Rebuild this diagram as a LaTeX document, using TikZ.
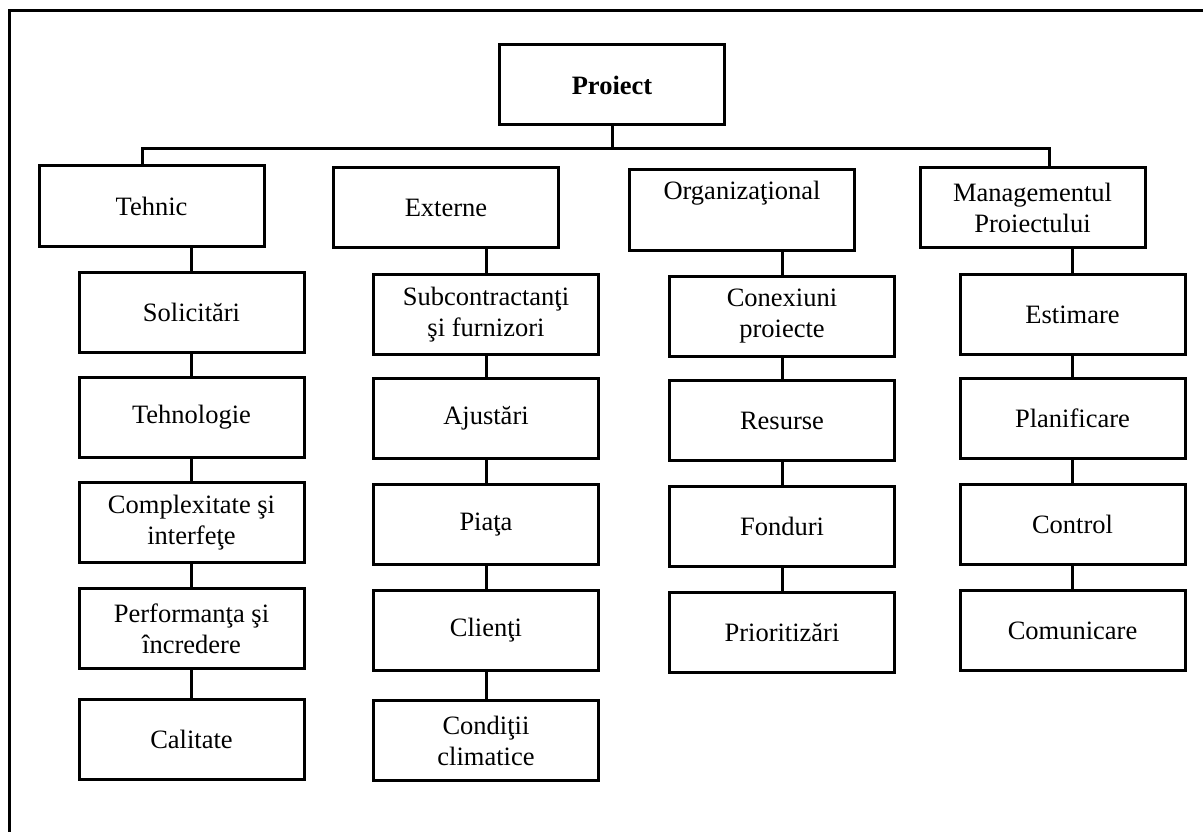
\documentclass[tikz,border=0pt]{standalone}
\usepackage{fontspec}
\setmainfont{Liberation Serif}
\begin{document}
\begin{tikzpicture}[x=1pt, y=-1pt,
        box/.style={rectangle, draw, line width=3pt, minimum width=225pt, minimum height=80pt,
            inner sep=0pt, align=center, font=\fontsize{26.5}{31}\selectfont},
        link/.style={line width=3pt}]
        \useasboundingbox (0,0) rectangle (1203,832);

        % Frame
        \draw[link] (9,832) -- (9,11) -- (1203,11);

        % Project
        \node[box] (proiect) at (612,85) {\textbf{Proiect}};
        \coordinate (bar) at (611,149);

        % Categories
        \node[box] (tehnic) at (151.5,206) {Tehnic};
        \node[box] (externe) at (446,207.5) {Externe};
        \node[box] (org) at (742,210) {Organizaţional\\\strut};
        \node[box] (mgmt) at (1032.5,207.5) {Managementul\\Proiectului};

        % Tehnic column
        \node[box] (sol) at (191.5,312.5) {Solicitări};
        \node[box] (tehno) at (191.5,417) {Tehnologie};
        \node[box] (compl) at (191.5,522.5) {Complexitate şi\\interfeţe};
        \node[box] (perf) at (191.5,628.5) {Performanţa şi\\încredere};
        \node[box] (cal) at (191.5,739) {Calitate};

        % Externe column
        \node[box] (sub) at (486,314.5) {Subcontractanţi\\şi furnizori};
        \node[box] (ajust) at (486,418.5) {Ajustări};
        \node[box] (piata) at (486,524.5) {Piaţa};
        \node[box] (clienti) at (486,630.5) {Clienţi};
        \node[box] (cond) at (486,740.5) {Condiţii\\climatice};

        % Organizational column
        \node[box] (conex) at (782,316.5) {Conexiuni\\proiecte};
        \node[box] (res) at (782,420.5) {Resurse};
        \node[box] (fond) at (782,526.5) {Fonduri};
        \node[box] (prior) at (782,632.5) {Prioritizări};

        % Management column
        \node[box] (est) at (1072.5,314.5) {Estimare};
        \node[box] (plan) at (1072.5,418.5) {Planificare};
        \node[box] (ctrl) at (1072.5,524.5) {Control};
        \node[box] (com) at (1072.5,630.5) {Comunicare};

        % Lines
        \draw[link] (proiect.south) -- (proiect.south |- bar);
        \draw[link] ([xshift=-9.5pt]tehnic.north) |- (bar) -| ([xshift=16.5pt]mgmt.north);
        \foreach \a/\b in {tehnic/sol, sol/tehno, tehno/compl, compl/perf, perf/cal,
            externe/sub, sub/ajust, ajust/piata, piata/clienti, clienti/cond,
            org/conex, conex/res, res/fond, fond/prior,
            mgmt/est, est/plan, plan/ctrl, ctrl/com}
            \draw[link] (\b.north) -- (\b.north |- \a.south);
    \end{tikzpicture}
\end{document}
